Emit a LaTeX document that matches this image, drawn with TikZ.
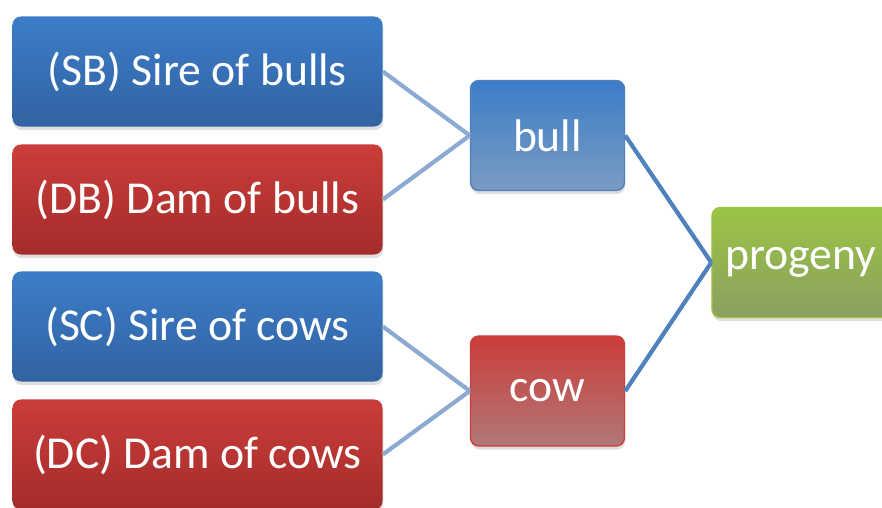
\documentclass[tikz,border=0pt]{standalone}
\usepackage{fontspec}
\setmainfont{Carlito}
\usetikzlibrary{shadows}

\definecolor{boxblue}{RGB}{60,125,200}
\definecolor{boxbluedark}{RGB}{50,98,162}
\definecolor{boxred}{RGB}{203,61,58}
\definecolor{boxreddark}{RGB}{163,44,42}
\definecolor{fadeblue}{RGB}{122,156,194}
\definecolor{fadered}{RGB}{176,120,120}
\definecolor{boxgreen}{RGB}{155,196,68}
\definecolor{fadegreen}{RGB}{138,160,96}
\definecolor{linklight}{RGB}{140,170,210}
\definecolor{linkdark}{RGB}{79,129,189}

\begin{document}
\begin{tikzpicture}[x = 0.025cm, y = -0.025cm,
    parent/.style = {rounded corners = 6pt, minimum width = 9.25cm, minimum height = 2.75cm,
        text = white, font = \fontsize{32.5}{34}\selectfont, inner sep = 0pt,
        drop shadow = {opacity = 0.25, shadow xshift = 0.5pt, shadow yshift = -2.5pt}},
    child/.style = {parent, minimum width = 3.85cm, line width = 1pt},
    linkA/.style = {draw = linklight, line width = 3pt},
    linkB/.style = {draw = linkdark, line width = 3pt}]
    \useasboundingbox (0, 0) rectangle (882, 507);

    \node[parent, top color = boxblue, bottom color = boxbluedark] (SB) at (197.5, 71.5){(SB) Sire of bulls};
    \node[parent, top color = boxred, bottom color = boxreddark] (DB) at (197.5, 199.5){(DB) Dam of bulls};
    \node[parent, top color = boxblue, bottom color = boxbluedark] (SC) at (197.5, 326.5){(SC) Sire of cows};
    \node[parent, top color = boxred, bottom color = boxreddark] (DC) at (197.5, 454.5){(DC) Dam of cows};

    \node[child, draw = linkdark, top color = boxblue, bottom color = fadeblue] (bull) at (547.5, 135.5){bull};
    \node[child, draw = boxred, top color = boxred, bottom color = fadered] (cow) at (547.5, 391){cow};
    \node[child, draw = boxgreen, top color = boxgreen, bottom color = fadegreen, minimum width = 4.45cm] (progeny) at (801, 262.5){progeny};

    \draw[linkA] (SB.east) -- (bull.west);
    \draw[linkA] (DB.east) -- (bull.west);
    \draw[linkA] (SC.east) -- (cow.west);
    \draw[linkA] (DC.east) -- (cow.west);

    \draw[linkB] (bull.east) -- (progeny.west);
    \draw[linkB] (cow.east) -- (progeny.west);
\end{tikzpicture}
\end{document}
